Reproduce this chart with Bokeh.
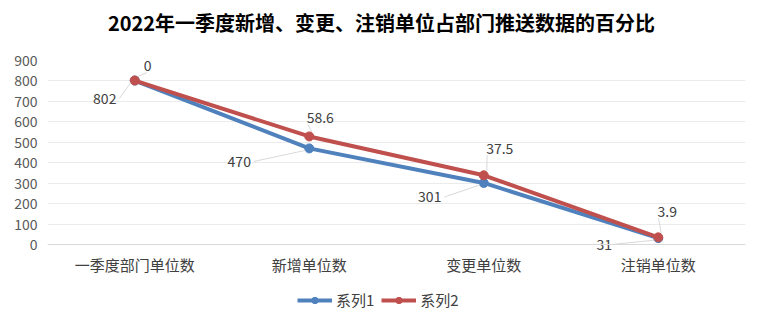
from bokeh.plotting import figure
from bokeh.layouts import column
from bokeh.models import Range1d, FixedTicker, Legend, LegendItem, Span
from bokeh.embed import file_html
from bokeh.resources import INLINE
from bokeh.core.properties import value

# ---- data ----
categories = ["一季度部门单位数", "新增单位数", "变更单位数", "注销单位数"]
series1 = [802, 470, 301, 31]
series2 = [0, 58.6, 37.5, 3.9]
series_names = ["系列1", "系列2"]
y_ticks = list(range(0, 901, 100))
title_text = "2022年一季度新增、变更、注销单位占部门推送数据的百分比"

# ---- style ----
FONT = "Noto Sans CJK SC"
BLUE = "#4F81BD"
RED = "#C0504D"
TXT = "#404040"
W = 762
H_TITLE, H_MAIN, H_LEG = 44, 236, 44
EXTRA = 10                      # px of frame below the zero line (room for labels)
L, R, T = 47, 17, 16
FW, FH = W - L - R, 184
B = H_MAIN - T - FH - EXTRA
YMAX = 900

# label offsets in pixels (dx right, dy down) from the point
off1 = [(-30, 18), (-70, 13), (-54, 14), (-54, 6)]
off2 = [(13, -15), (11, -19), (16, -27), (9, -26)]

xs = [i + 0.5 for i in range(len(categories))]
stack2 = [a + b for a, b in zip(series1, series2)]
px_x = len(categories) / FW
px_y = YMAX / FH


def strip(height):
    # x range in canvas pixels (frames are aligned with the main plot's frame in the column)
    f = figure(width=W, height=height, x_range=Range1d(L, W - R), y_range=Range1d(0, 1),
               output_backend="svg", toolbar_location=None,
               x_axis_location=None, y_axis_location=None,
               min_border_left=L, min_border_right=R, min_border_top=0, min_border_bottom=0)
    f.outline_line_color = None
    f.grid.grid_line_color = None
    f.border_fill_color = "white"
    f.background_fill_color = "white"
    return f

# ---- title strip ----
tfig = strip(H_TITLE)
tfig.text([W / 2], [0.5], text=[title_text], text_font=value(FONT), text_font_size="20px",
          text_font_style="bold", text_color="black", text_align="center", text_baseline="middle")

# ---- main plot ----
p = figure(width=W, height=H_MAIN, x_range=Range1d(0, len(categories)),
           y_range=Range1d(-EXTRA * px_y, YMAX),
           output_backend="svg", toolbar_location=None,
           min_border_left=L, min_border_right=R, min_border_top=T, min_border_bottom=B)
p.outline_line_color = None
p.background_fill_color = "white"
p.border_fill_color = "white"

p.xgrid.grid_line_color = None
p.ygrid.grid_line_color = "#ebebeb"
p.ygrid.ticker = FixedTicker(ticks=y_ticks[1:])
p.add_layout(Span(location=0, dimension="width", line_color="#d9d9d9", line_width=1))

p.yaxis.ticker = FixedTicker(ticks=y_ticks)
p.yaxis.axis_line_color = None
p.yaxis.major_tick_line_color = None
p.yaxis.minor_tick_line_color = None
p.yaxis.major_label_text_font = FONT
p.yaxis.major_label_text_font_size = "14px"
p.yaxis.major_label_text_color = "#595959"
p.yaxis.major_label_standoff = 4

p.xaxis.ticker = FixedTicker(ticks=xs)
p.xaxis.major_label_overrides = {x: c for x, c in zip(xs, categories)}
p.xaxis.axis_line_color = None
p.xaxis.major_tick_line_color = None
p.xaxis.minor_tick_line_color = None
p.xaxis.major_label_text_font = FONT
p.xaxis.major_label_text_font_size = "15px"
p.xaxis.major_label_text_color = TXT
p.xaxis.major_label_standoff = -7

p.line(xs, series1, line_color=BLUE, line_width=4)
p.scatter(xs, series1, size=9, fill_color=BLUE, line_color=BLUE)
p.line(xs, stack2, line_color=RED, line_width=4)
p.scatter(xs, stack2, size=9, fill_color=RED, line_color=RED)

def fmt(v):
    return str(int(v)) if float(v).is_integer() else str(v)

# data labels + leader lines
for vals, ys, offs, side in ((series1, series1, off1, -1), (series2, stack2, off2, 1)):
    lx, ly, lt = [], [], []
    sx0, sy0, sx1, sy1 = [], [], [], []
    for x, y, v, (dx, dy) in zip(xs, ys, vals, offs):
        t = fmt(v)
        lx.append(x + dx * px_x)
        ly.append(y - dy * px_y)
        lt.append(t)
        w = len(t) * 7.8
        if side < 0:
            ax, ay = dx + w / 2 + 3, dy
            bx, by = -4, 2
        else:
            ax, ay = 3, -4
            bx, by = dx - w / 2 + 3, dy + 7
        sx0.append(x + ax * px_x); sy0.append(y - ay * px_y)
        sx1.append(x + bx * px_x); sy1.append(y - by * px_y)
    p.segment(sx0, sy0, sx1, sy1, line_color="#d9d9d9", line_width=1)
    p.text(lx, ly, text=lt, text_font=value(FONT), text_font_size="14px",
           text_color=TXT, text_align="center", text_baseline="middle")

# ---- legend strip (its renderers sit outside the visible range) ----
q = strip(H_LEG)
ql1 = q.line(xs, series1, line_color=BLUE, line_width=4)
qc1 = q.scatter(xs, series1, size=9, fill_color=BLUE, line_color=BLUE)
ql2 = q.line(xs, stack2, line_color=RED, line_width=4)
qc2 = q.scatter(xs, stack2, size=9, fill_color=RED, line_color=RED)
legend = Legend(items=[LegendItem(label=series_names[0], renderers=[ql1, qc1]),
                       LegendItem(label=series_names[1], renderers=[ql2, qc2])],
                orientation="horizontal", location=(250, 14),
                glyph_width=35, glyph_height=16, label_standoff=4, spacing=7,
                padding=0, margin=0, border_line_color=None, background_fill_alpha=0,
                label_text_font=FONT, label_text_font_size="15px", label_text_color=TXT)
q.add_layout(legend)

layout = column(tfig, p, q, spacing=0)
open("out.html", "w").write(file_html(layout, INLINE))
